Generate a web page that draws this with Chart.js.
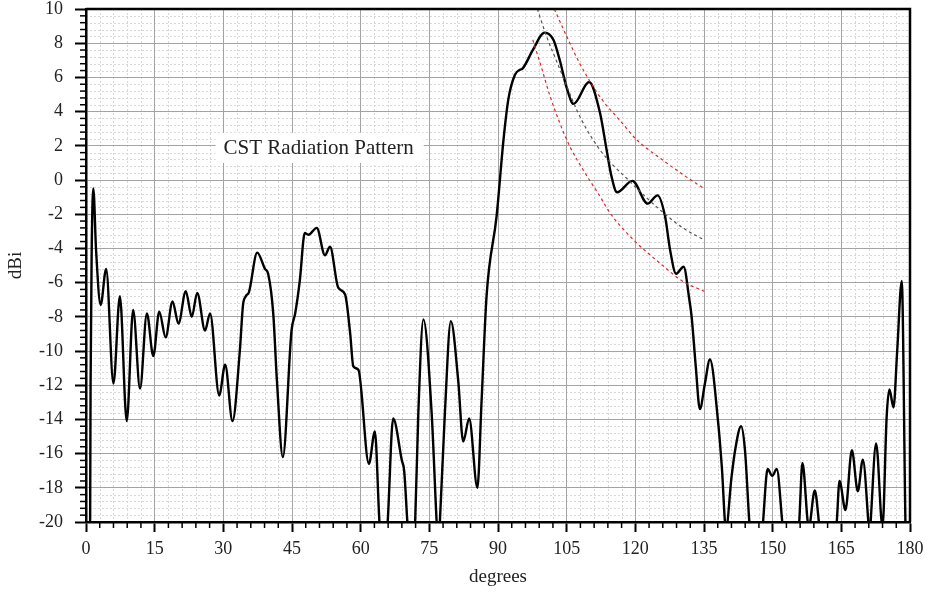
<!DOCTYPE html>
<html>
<head>
<meta charset="utf-8">
<title>CST Radiation Pattern</title>
<script src="https://cdn.jsdelivr.net/npm/chart.js@4.4.1/dist/chart.umd.min.js"></script>
<style>
  html, body { margin: 0; padding: 0; background: #fff; }
  #wrap { width: 929px; height: 592px; }
</style>
</head>
<body>
<div id="wrap"><canvas id="pattern" width="929" height="592"></canvas></div>
<script>
'use strict';

// main gain curve (degrees / dBi)
const patternDeg = [
  0.75, 0.9, 1.0, 1.25, 1.6, 2.2, 3.2, 4.4, 6.0, 7.4, 8.9, 10.3, 11.8, 13.3, 14.7,
  16.0, 17.4, 18.9, 20.2, 21.8, 23.1, 24.3, 26.0, 27.1, 29.1, 30.4, 32.0, 33.6, 34.3,
  34.9, 35.6, 37.4, 39.1, 39.8, 40.9, 41.7, 43.0, 44.9, 45.7, 46.7, 47.8, 48.6, 50.4,
  52.2, 53.3, 55.1, 56.6, 57.7, 58.4, 59.5, 61.8, 63.1, 64.1, 65.0, 65.9, 67.1, 69.0,
  69.5, 70.2, 71.05, 71.9, 72.6, 73.7, 75.5, 76.6, 76.95, 77.3, 78.4, 79.7, 81.3, 82.4,
  83.7, 85.5, 86.4, 87.5, 89.7, 91.2, 92.25, 93.7, 94.8, 95.3, 97.6, 100.2, 102.1, 103.5,
  105.0, 106.5, 109.9, 112.3, 113.7, 114.8, 116.0, 119.35, 122.7, 124.85, 126.5, 127.6,
  128.9, 130.55, 131.8, 132.3, 133.2, 134.1, 135.2, 136.3, 138.1, 138.9, 139.8, 141.0,
  141.8, 143.1, 143.95, 144.9, 146.4, 147.9, 148.9, 149.9, 150.9, 152.1, 154.0, 155.8,
  156.5, 157.9, 159.2, 160.1, 162.0, 164.0, 164.6, 165.9, 167.3, 168.6, 169.7, 170.9,
  171.15, 171.4, 172.6, 174.0, 174.9, 175.5, 176.4, 177.2, 178.2, 179.0, 179.3
];
const patternGain = [
  -24, -20, -12, -4, -0.5, -4.1, -7.3, -5.2, -11.9, -6.8, -14.1, -7.6, -12.2, -7.8, -10.3,
  -7.7, -9.2, -7.1, -8.4, -6.5, -8.0, -6.6, -8.8, -7.8, -12.6, -10.8, -14.1, -10.0, -7.3,
  -6.8, -6.55, -4.25, -5.2, -5.5, -7.8, -11.7, -16.2, -8.8, -7.8, -5.9, -3.1, -3.2, -2.8,
  -4.4, -3.9, -6.3, -6.7, -8.95, -10.9, -11.1, -16.6, -14.7, -20, -23, -20, -13.95, -16.4,
  -17.0, -20, -23, -20, -13.6, -8.15, -13.6, -20, -21.5, -20, -13.6, -8.25, -11.7, -15.3,
  -13.95, -18.0, -13.0, -6.8, -2.1, 2.35, 4.7, 6.15, 6.45, 6.5, 7.6, 8.62, 8.2, 7.0,
  5.4, 4.45, 5.73, 3.9, 1.8, 0.2, -0.72, -0.05, -1.38, -0.9, -2.14, -4.1,
  -5.48, -5.07, -7.0, -8.0, -10.9, -13.4, -11.9, -10.5, -14.2, -16.8, -20.4, -17.4,
  -15.8, -14.4, -15.8, -20, -25, -20, -16.9, -17.3, -16.9, -20, -25, -20,
  -16.55, -20.3, -18.15, -20, -25, -20, -17.6, -19.3, -15.8, -18.2, -16.35, -20,
  -21, -20, -15.4, -20.3, -13.85, -12.25, -13.3, -10.0, -5.9, -20, -24
];

// dashed guide curves
const guideMidDeg = [98.6, 100.6, 102.8, 105.0, 107.2, 109.4, 112.3, 115.0, 118.1, 119.55, 125.4, 130.5, 135.0];
const guideMidGain = [10.0, 8.4, 6.95, 5.5, 4.1, 2.95, 1.75, 0.9, 0.1, -0.29, -1.75, -2.82, -3.5];
const guideUpDeg = [102.3, 105.0, 107.5, 110.1, 113.0, 116.6, 120.3, 125.4, 130.5, 135.0];
const guideUpGain = [10.0, 8.4, 7.0, 5.76, 4.6, 3.5, 2.35, 1.28, 0.3, -0.5];
const guideLowDeg = [97.6, 99.2, 101.4, 103.5, 105.7, 108.6, 112.3, 114.5, 119.6, 125.4, 130.5, 135.0];
const guideLowGain = [8.2, 6.84, 4.88, 3.33, 1.96, 0.59, -0.97, -1.94, -3.5, -4.87, -5.95, -6.5];

const degTicks = [0, 15, 30, 45, 60, 75, 90, 105, 120, 135, 150, 165, 180];
const gainTicks = [-20, -18, -16, -14, -12, -10, -8, -6, -4, -2, 0, 2, 4, 6, 8, 10];
const seriesLabel = 'CST Radiation Pattern';

const FONT = "'Liberation Serif', 'DejaVu Serif', serif";

function toPoints(xs, ys) {
  return xs.map((x, i) => ({ x: x, y: ys[i] }));
}

// dotted minor grid underneath, minor ticks, frame and the boxed label on top
const decorations = {
  id: 'decorations',
  beforeDraw(chart) {
    const { ctx, chartArea: a, scales: { x, y } } = chart;
    ctx.save();
    ctx.strokeStyle = '#d8d8d8';
    ctx.lineWidth = 1;
    ctx.setLineDash([2, 2]);
    for (let d = 0; d <= 180; d += 3) {
      if (d % 15 === 0) continue;
      const px = Math.round(x.getPixelForValue(d)) + 0.5;
      ctx.beginPath(); ctx.moveTo(px, a.top); ctx.lineTo(px, a.bottom); ctx.stroke();
    }
    for (let i = 0; i <= 75; i++) {
      if (i % 5 === 0) continue;
      const py = Math.round(y.getPixelForValue(-20 + i * 0.4)) + 0.5;
      ctx.beginPath(); ctx.moveTo(a.left, py); ctx.lineTo(a.right, py); ctx.stroke();
    }
    ctx.restore();
  },
  afterDraw(chart) {
    const { ctx, chartArea: a, scales: { x, y } } = chart;
    ctx.save();
    ctx.strokeStyle = '#000';
    ctx.lineWidth = 1.5;
    for (let d = 0; d <= 180; d += 3) {
      if (d % 15 === 0) continue;
      const px = x.getPixelForValue(d);
      ctx.beginPath(); ctx.moveTo(px, a.bottom); ctx.lineTo(px, a.bottom + 6); ctx.stroke();
    }
    for (let i = 0; i <= 75; i++) {
      if (i % 5 === 0) continue;
      const py = y.getPixelForValue(-20 + i * 0.4);
      ctx.beginPath(); ctx.moveTo(a.left, py); ctx.lineTo(a.left - 6, py); ctx.stroke();
    }
    ctx.lineWidth = 2.5;
    ctx.beginPath();
    ctx.moveTo(a.left, a.top); ctx.lineTo(a.right, a.top); ctx.lineTo(a.right, a.bottom);
    ctx.stroke();

    // series label box
    ctx.font = '21px ' + FONT;
    const tw = ctx.measureText(seriesLabel).width;
    const bx = x.getPixelForValue(28.3);
    const by = y.getPixelForValue(2.76);
    const bh = y.getPixelForValue(1.0) - by;
    ctx.fillStyle = '#fff';
    ctx.fillRect(bx, by, tw + 18, bh);
    ctx.fillStyle = '#222';
    ctx.textBaseline = 'middle';
    ctx.fillText(seriesLabel, bx + 8, by + bh / 2 + 1);
    ctx.restore();
  }
};

const guideStyle = {
  pointRadius: 0,
  borderWidth: 1.2,
  borderDash: [3, 3],
  cubicInterpolationMode: 'monotone',
  fill: false
};

new Chart(document.getElementById('pattern'), {
  type: 'line',
  data: {
    datasets: [
      Object.assign({ label: 'guide mid', data: toPoints(guideMidDeg, guideMidGain), borderColor: '#555' }, guideStyle),
      Object.assign({ label: 'guide upper', data: toPoints(guideUpDeg, guideUpGain), borderColor: '#e02828' }, guideStyle),
      Object.assign({ label: 'guide lower', data: toPoints(guideLowDeg, guideLowGain), borderColor: '#e02828' }, guideStyle),
      {
        label: seriesLabel,
        data: toPoints(patternDeg, patternGain),
        borderColor: '#000',
        borderWidth: 2.4,
        pointRadius: 0,
        cubicInterpolationMode: 'monotone',
        fill: false
      }
    ]
  },
  options: {
    responsive: false,
    animation: false,
    devicePixelRatio: 1,
    layout: { padding: { top: 9, right: 19, left: 0, bottom: 0 } },
    plugins: {
      legend: { display: false },
      tooltip: { enabled: false }
    },
    scales: {
      x: {
        type: 'linear',
        min: 0,
        max: 180,
        afterBuildTicks: scale => { scale.ticks = degTicks.map(v => ({ value: v })); },
        afterFit: scale => { scale.height = 70; scale.paddingLeft = 0; scale.paddingRight = 0; },
        ticks: { color: '#222', padding: 6, font: { family: FONT, size: 18 } },
        grid: { color: '#a3a3a3', lineWidth: 1, tickLength: 10, tickColor: '#000', tickWidth: 2 },
        border: { color: '#000', width: 2.5 },
        title: { display: true, text: 'degrees', color: '#222', font: { family: FONT, size: 19 }, padding: { top: 0, bottom: 4 } }
      },
      y: {
        min: -20,
        max: 10,
        afterBuildTicks: scale => { scale.ticks = gainTicks.map(v => ({ value: v })); },
        afterFit: scale => { scale.width = 86; scale.paddingTop = 0; scale.paddingBottom = 0; },
        ticks: { color: '#222', padding: 12, font: { family: FONT, size: 18 } },
        grid: { color: '#a3a3a3', lineWidth: 1, tickLength: 11, tickColor: '#000', tickWidth: 2 },
        border: { color: '#000', width: 2.5 },
        title: { display: true, text: 'dBi', color: '#222', font: { family: FONT, size: 19 }, padding: { top: 5, bottom: 0 } }
      }
    }
  },
  plugins: [decorations]
});
</script>
</body>
</html>
